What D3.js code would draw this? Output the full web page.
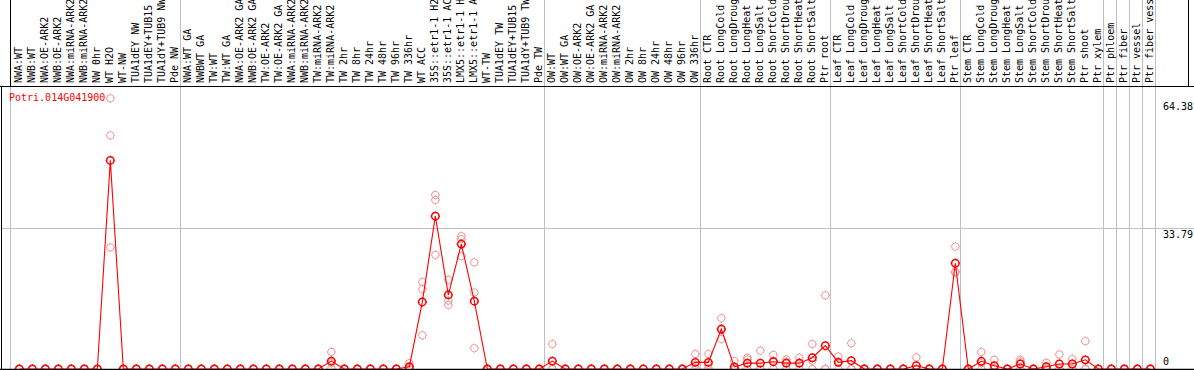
<!DOCTYPE html>
<html><head><meta charset="utf-8">
<script src="https://cdn.jsdelivr.net/npm/d3@7"></script>
<style>
body{margin:0;background:#fff}
svg{display:block}
text{font-family:"DejaVu Sans Mono","Liberation Mono",monospace;font-size:10px}
</style>
</head><body>
<svg id="chart" width="1194" height="370"></svg>
<script>
const categories = [
"NWA:WT","NWB:WT","NWA:OE-ARK2","NWB:OE-ARK2","NWA:miRNA-ARK2","NWB:miRNA-ARK2","NW 0hr","WT H2O","WT-NW","TUA1dEY NW","TUA1dEY+TUB15 NW","TUA1dY+TUB9 NW","Pde NW",
"NWA:WT GA","NWBWT GA","TW:WT","TW:WT GA","NWA:OE-ARK2 GA","NWB:OE-ARK2 GA","TW:OE-ARK2","TW:OE-ARK2 GA","NWA:miRNA-ARK2","NWB:miRNA-ARK2","TW:miRNA-ARK2","TW:miRNA-ARK2","TW 2hr","TW 8hr","TW 24hr","TW 48hr","TW 96hr","TW 336hr","WT ACC","35S::etr1-1 H2O","35S::etr1-1 ACC","LMX5::etr1-1 H2O","LMX5::etr1-1 ACC","WT-TW","TUA1dEY TW","TUA1dEY+TUB15 TW","TUA1dY+TUB9 TW","Pde TW",
"OW:WT","OW:WT GA","OW:OE-ARK2","OW:OE-ARK2 GA","OW:miRNA-ARK2","OW:miRNA-ARK2","OW 2hr","OW 8hr","OW 24hr","OW 48hr","OW 96hr","OW 336hr",
"Root CTR","Root LongCold","Root LongDrought","Root LongHeat","Root LongSalt","Root ShortCold","Root ShortDrought","Root ShortHeat","Root ShortSalt","Ptr root",
"Leaf CTR","Leaf LongCold","Leaf LongDrought","Leaf LongHeat","Leaf LongSalt","Leaf ShortCold","Leaf ShortDrought","Leaf ShortHeat","Leaf ShortSalt","Ptr leaf",
"Stem CTR","Stem LongCold","Stem LongDrought","Stem LongHeat","Stem LongSalt","Stem ShortCold","Stem ShortDrought","Stem ShortHeat","Stem ShortSalt","Ptr shoot","Ptr xylem",
"Ptr phloem","Ptr fiber","Ptr vessel","Ptr fiber vessel"
];
// index where each sample group begins (last = end)
const groupBounds = [0,13,41,53,63,73,84,85,86,87,88];

const seriesName = "Potri.014G041900";

const means = [
0,0,0,0,0,0,0,50.1,0,0,0,0,0,
0,0,0,0,0,0,0,0,0,0,0,1.9,0,0,0,0,0,0.55,16.1,36.7,17.8,30.0,16.3,0,0,0,0,0,
1.9,0,0,0,0,0,0,0,0,0,0,1.6,
1.6,9.6,0.5,1.4,1.4,1.75,1.4,1.4,2.7,5.6,
1.6,2.0,0,0,0,0,0.8,0,0,25.4,
0,1.85,0.8,0,1.2,0,0.55,1.2,1.2,2.2,0,
0,0,0,0
];
const rep1 = [
0,0,0,0,0,0,0,65.0,0,0,0,0,0,
0,0,0,0,0,0,0,0,0,0,0,4.1,0,0,0,0,0,1.4,20.9,41.8,21.4,31.9,25.6,0,0,0,0,0,
6.0,0,0,0,0,0,0,0,0,0,0,3.6,
3.6,12.2,1.9,2.7,4.4,3.4,2.3,2.7,6.0,17.7,
3.0,6.2,0,0,0,0,2.8,0,0,29.4,
0,4.1,2.2,0,2.2,0,1.5,3.5,2.4,6.7,0,
0,0,0,0
];
const rep2 = [
0,0,0,0,0,0,0,56.1,0,0,0,0,0,
0,0,0,0,0,0,0,0,0,0,0,1.4,0,0,0,0,0,0.3,19.2,40.6,16.4,31.2,18.4,0,0,0,0,0,
0,0,0,0,0,0,0,0,0,0,0,1.0,
1.0,9.4,0,2.3,0,2.0,1.8,1.5,2.0,0,
1.8,0,0,0,0,0,0,0,0,23.4,
0,1.4,0.2,0,1.7,0,0.2,0,1.2,0,0,
0,0,0,0
];
const rep3 = [
0,0,0,0,0,0,0,29.2,0,0,0,0,0,
0,0,0,0,0,0,0,0,0,0,0,0.2,0,0,0,0,0,0,8.1,27.4,15.4,27.1,5.0,0,0,0,0,0,
0,0,0,0,0,0,0,0,0,0,0,0.2,
0.2,7.2,0,0,0,0,0,0,0,0,
0,0,0,0,0,0,0,0,0,23.1,
0,0,0,0,0,0,0,0,0,0,0,
0,0,0,0
];
const axisTicks = [0, 33.79, 64.38];
const gridValues = [33.79];

const W = 1194, H = 370;
const plotTop = 86, plotBottom = 369;
const svg = d3.select("#chart");

const x = d3.scaleLinear().domain([0, categories.length - 1]).range([19.33, 1150.33]);
const y = d3.scaleLinear().domain([0, 33.79]).range([plotBottom, 228.3]);
const crisp = v => Math.round(v) + 0.5;

// group separator lines
groupBounds.forEach((b, i) => {
  const gx = i === 0 ? 10.5 : crisp(x(b) - 8);
  svg.append("line").attr("x1", gx).attr("x2", gx).attr("y1", 0).attr("y2", plotBottom)
    .attr("stroke", "#c0c0c0").attr("stroke-width", 1);
});
// black separators in label area
svg.append("line").attr("x1", 10.5).attr("x2", 10.5).attr("y1", 0).attr("y2", plotTop)
  .attr("stroke", "#000");
svg.append("line").attr("x1", 1188.5).attr("x2", 1188.5).attr("y1", 0).attr("y2", plotTop)
  .attr("stroke", "#000");

// horizontal grid
gridValues.forEach(v => {
  svg.append("line").attr("x1", 2).attr("x2", W).attr("y1", crisp(y(v))).attr("y2", crisp(y(v)))
    .attr("stroke", "#c0c0c0");
});

// category labels (long ones run off the top edge, as in the original)
svg.append("g").selectAll("text").data(categories).join("text")
  .attr("transform", (d, i) => `translate(${x(i) + 3},83) rotate(-90)`)
  .attr("fill", "#000")
  .text(d => d);

// replicate points
const reps = [rep1, rep2, rep3];
function marker(g, cx, cy, r, color, sw) {
  g.append("circle").attr("cx", cx).attr("cy", cy).attr("r", r)
    .attr("fill", "none").attr("stroke", color).attr("stroke-width", sw);
  const t = r + 1, s = r;
  g.append("path")
    .attr("d", `M${cx},${cy - t}V${cy - s}M${cx},${cy + s}V${cy + t}M${cx - t},${cy}H${cx - s}M${cx + s},${cy}H${cx + t}`)
    .attr("stroke", color).attr("stroke-width", 1).attr("fill", "none");
}
const gRep = svg.append("g");
reps.forEach(arr => arr.forEach((v, i) => marker(gRep, x(i), y(v), 3.7, "#f09a9a", 1)));

// mean line
svg.append("path")
  .attr("d", d3.line().x((d, i) => x(i)).y(d => y(d))(means))
  .attr("fill", "none").attr("stroke", "#ff0000").attr("stroke-width", 1.1);

const gMean = svg.append("g");
means.forEach((v, i) => marker(gMean, x(i), y(v), 3.7, "#ff0000", 1.5));

// plot frame
svg.append("line").attr("x1", 0).attr("x2", W).attr("y1", plotTop + 0.5).attr("y2", plotTop + 0.5).attr("stroke", "#000");
svg.append("line").attr("x1", 0).attr("x2", W).attr("y1", plotBottom + 0.5).attr("y2", plotBottom + 0.5).attr("stroke", "#000").attr("stroke-width", 1.5);
svg.append("line").attr("x1", 1.5).attr("x2", 1.5).attr("y1", plotTop).attr("y2", plotBottom).attr("stroke", "#000");

// right value labels
axisTicks.forEach(v => {
  svg.append("text").attr("x", 1163)
    .attr("y", v === 0 ? y(v) - 4 : y(v) + 9.5)
    .attr("fill", "#000").text(v);
});

// series legend
svg.append("text").attr("x", 9).attr("y", 101).attr("fill", "#ff0000").text(seriesName);
</script>
</body></html>
